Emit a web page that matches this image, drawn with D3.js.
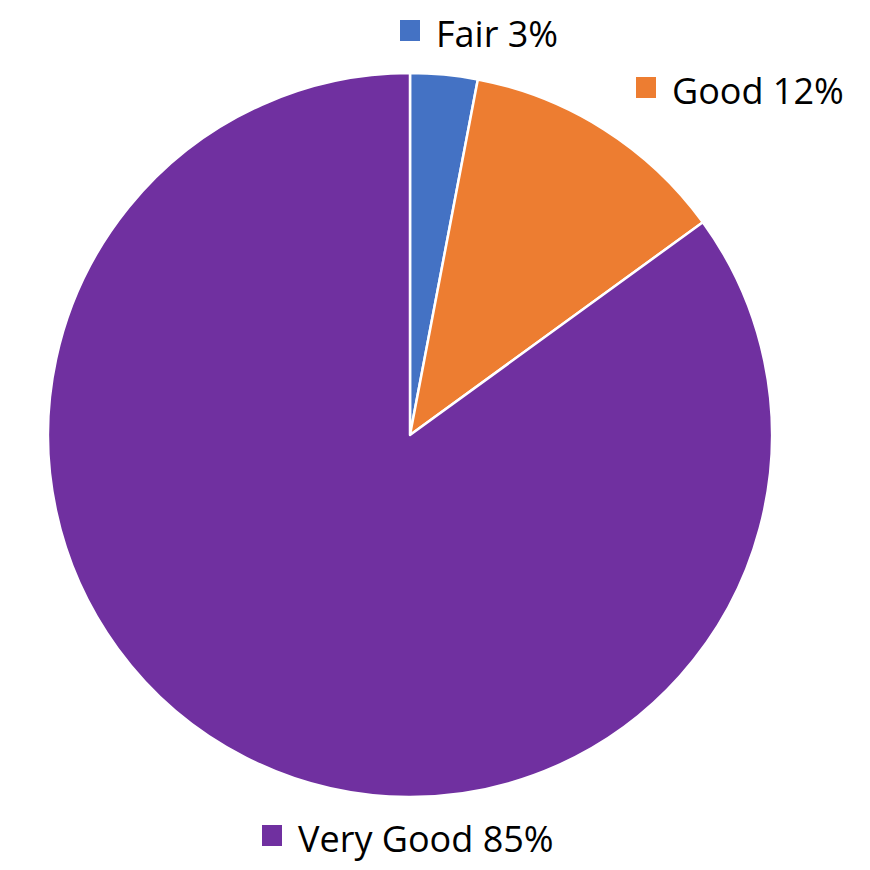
<!DOCTYPE html>
<html lang="en">
<head>
<meta charset="utf-8">
<script src="https://d3js.org/d3.v7.min.js"></script>
<style>
  body { margin: 0; background: #fff; }
</style>
</head>
<body>
<script>
// chart data
var categories = ["Fair", "Good", "Very Good"];
var shares = [3, 12, 85];
var colors = ["#4472C4", "#ED7D31", "#7030A0"];

var width = 870, height = 870;
var cx = 410, cy = 435, radius = 362;

// where each legend entry sits (square left, square top)
var legendPos = [[400, 20], [636, 77], [262, 825]];

var svg = d3.select("body").append("svg")
    .attr("width", width)
    .attr("height", height);

var pie = d3.pie().sort(null).value(function(d) { return d; });
var arc = d3.arc().innerRadius(0).outerRadius(radius);

svg.append("g")
    .attr("transform", "translate(" + cx + "," + cy + ")")
  .selectAll("path")
    .data(pie(shares))
    .enter()
    .append("path")
    .attr("d", arc)
    .attr("fill", function(d, i) { return colors[i]; })
    .attr("stroke", "#fff")
    .attr("stroke-width", 2.5)
    .attr("stroke-linejoin", "round");

var legend = svg.selectAll(".legend")
    .data(categories)
    .enter()
    .append("g")
    .attr("class", "legend")
    .attr("transform", function(d, i) {
        return "translate(" + legendPos[i][0] + "," + legendPos[i][1] + ")";
    });

legend.append("rect")
    .attr("width", 20)
    .attr("height", 21)
    .attr("fill", function(d, i) { return colors[i]; });

legend.append("text")
    .attr("x", 36)
    .attr("y", 27)
    .attr("font-family", "Open Sans, sans-serif")
    .attr("font-size", 36)
    .attr("fill", "#000")
    .text(function(d, i) { return d + " " + shares[i] + "%"; });
</script>
</body>
</html>
